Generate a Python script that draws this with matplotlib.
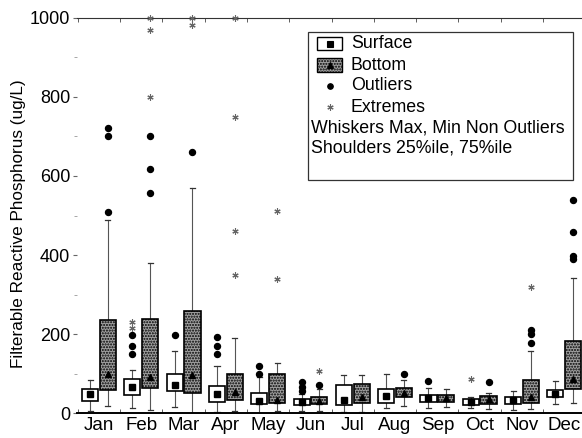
import matplotlib
matplotlib.use("Agg")
import matplotlib.pyplot as plt
from matplotlib.lines import Line2D
from matplotlib.patches import Rectangle
from matplotlib.ticker import FixedLocator, MultipleLocator

plt.rcParams["font.family"] = ["Liberation Sans", "DejaVu Sans"]

months = ["Jan", "Feb", "Mar", "Apr", "May", "Jun",
          "Jul", "Aug", "Sep", "Oct", "Nov", "Dec"]

# surface samples
surf_q1 = [31, 47, 56, 28, 23, 21, 21, 25, 29, 21, 24, 40]
surf_q3 = [61, 87, 99, 70, 52, 35, 71, 61, 46, 35, 42, 60]
surf_mid = [50, 67, 72, 50, 32, 28, 34, 44, 38, 29, 33, 49]
surf_lo = [7, 13, 16, 3, 2, 6, 4, 14, 13, 13, 8, 23]
surf_hi = [84, 109, 157, 120, 93, 50, 97, 99, 63, 42, 57, 82]
surf_out = [[], [150, 170, 198], [198], [149, 171, 193], [99, 120],
            [57, 66, 78], [], [], [82], [], [], []]
surf_ext = [[], [215, 230], [], [], [], [], [], [], [], [87], [], []]

# bottom samples
bot_q1 = [59, 63, 52, 34, 25, 24, 27, 40, 29, 24, 25, 61]
bot_q3 = [236, 239, 258, 99, 99, 40, 74, 63, 46, 44, 84, 184]
bot_mid = [99, 91, 98, 53, 34, 32, 40, 52, 38, 35, 41, 86]
bot_lo = [19, 8, 1, 6, 6, 6, 4, 18, 15, 10, 12, 25]
bot_hi = [490, 381, 570, 190, 128, 61, 97, 85, 62, 51, 157, 341]
bot_out = [[509, 700, 721], [557, 617, 701], [661], [], [], [72], [],
           [100], [], [78], [177, 200, 211], [390, 398, 459, 539]]
bot_ext = [[], [800, 970, 1000], [981, 1000], [350, 460, 750, 1000],
           [340, 512], [107], [], [], [], [], [319], []]

W, H = 582, 438
fig = plt.figure(figsize=(W / 100, H / 100), dpi=100)
ax = fig.add_axes([77 / W, 1 - 413.3 / H, 505 / W, 395.5 / H])

OFF = 0.21
BW = 0.38
CAP = 0.12
GRAY = "#a0a0a0"


def draw_group(xc, q1, q3, mid, lo, hi, outs, exts, shaded, marker):
    for i in range(len(months)):
        x = xc + i
        ax.plot([x, x], [lo[i], q1[i]], color="#555555", lw=0.8, zorder=2)
        ax.plot([x, x], [q3[i], hi[i]], color="#555555", lw=0.8, zorder=2)
        ax.plot([x - CAP / 2, x + CAP / 2], [lo[i], lo[i]], color="#333333", lw=0.9)
        ax.plot([x - CAP / 2, x + CAP / 2], [hi[i], hi[i]], color="#333333", lw=0.9)
        if shaded:
            box = Rectangle((x - BW / 2, q1[i]), BW, q3[i] - q1[i],
                            facecolor=GRAY, edgecolor="black", lw=1.2,
                            hatch="......", zorder=3)
        else:
            box = Rectangle((x - BW / 2, q1[i]), BW, q3[i] - q1[i],
                            facecolor="white", edgecolor="black", lw=1.2, zorder=3)
        ax.add_patch(box)
        ax.plot([x], [mid[i]], marker=marker, color="black", ms=5, zorder=4)
        if outs[i]:
            ax.plot([x] * len(outs[i]), outs[i], "o", color="black", ms=4.3,
                    zorder=4, clip_on=False)
        if exts[i]:
            ax.plot([x] * len(exts[i]), exts[i], marker=(6, 2, 0), ls="none",
                    color="#666666", ms=4.5, mew=0.8, zorder=4, clip_on=False)


draw_group(1 - OFF, surf_q1, surf_q3, surf_mid, surf_lo, surf_hi,
           surf_out, surf_ext, False, "s")
draw_group(1 + OFF, bot_q1, bot_q3, bot_mid, bot_lo, bot_hi,
           bot_out, bot_ext, True, "^")

ax.set_xlim(0.48, 12.42)
ax.set_ylim(0, 1000)
ax.set_xticks(range(1, 13))
ax.set_xticklabels(months, fontsize=13.5)
ax.xaxis.set_minor_locator(FixedLocator([i + 0.5 for i in range(12)]))
ax.tick_params(axis="x", which="major", length=0, pad=3)
ax.tick_params(axis="x", which="minor", direction="in", length=3,
               top=True, color="#444444")
ax.set_yticks(range(0, 1001, 200))
ax.yaxis.set_minor_locator(MultipleLocator(100))
ax.tick_params(axis="y", which="major", labelsize=13, length=3, width=0.8,
               color="#666666", pad=2)
ax.tick_params(axis="y", which="minor", length=2, width=0.6, color="#999999")

for side in ["left", "right"]:
    ax.spines[side].set_visible(False)
ax.spines["bottom"].set_linewidth(1.4)
ax.spines["top"].set_linewidth(0.8)
ax.spines["top"].set_color("#333333")

ax.set_ylabel("Filterable Reactive Phosphorus (ug/L)", fontsize=12.3)
ax.yaxis.set_label_coords(-0.10, 0.479)


# legend, drawn by hand in pixel coordinates of the original layout
def fx(px):
    return px / W


def fy(py):
    return 1 - py / H


fig.patches.append(Rectangle((fx(308), fy(180)), fx(573) - fx(308), fy(32) - fy(180),
                             transform=fig.transFigure, facecolor="white",
                             edgecolor="#333333", lw=0.9, zorder=5))
fig.patches.append(Rectangle((fx(317), fy(50)), fx(342) - fx(317), fy(37) - fy(50),
                             transform=fig.transFigure, facecolor="white",
                             edgecolor="black", lw=1.0, zorder=6))
fig.patches.append(Rectangle((fx(317), fy(72)), fx(342) - fx(317), fy(58) - fy(72),
                             transform=fig.transFigure, facecolor=GRAY,
                             edgecolor="black", lw=1.0, hatch="......", zorder=6))
handles = [
    ((329.5, 43.5), "s", "black", 4.5),
    ((329.5, 65), "^", "black", 4.5),
    ((329.5, 86), "o", "black", 4),
    ((329.5, 107), (6, 2, 0), "#666666", 4.5),
]
for (hx, hy), m, c, s in handles:
    fig.add_artist(Line2D([fx(hx)], [fy(hy)], marker=m, color=c, ms=s, mew=0.8,
                          transform=fig.transFigure, zorder=7))
labels = ["Surface", "Bottom", "Outliers", "Extremes"]
for lab, ly in zip(labels, [43.5, 65, 86, 107]):
    fig.text(fx(351), fy(ly), lab, fontsize=12.8, va="center", ha="left", zorder=7)
fig.text(fx(311), fy(128), "Whiskers Max, Min Non Outliers", fontsize=12.8,
         va="center", ha="left", zorder=7)
fig.text(fx(311), fy(148), "Shoulders 25%ile, 75%ile", fontsize=12.8,
         va="center", ha="left", zorder=7)

fig.savefig("out.png", dpi=100)
